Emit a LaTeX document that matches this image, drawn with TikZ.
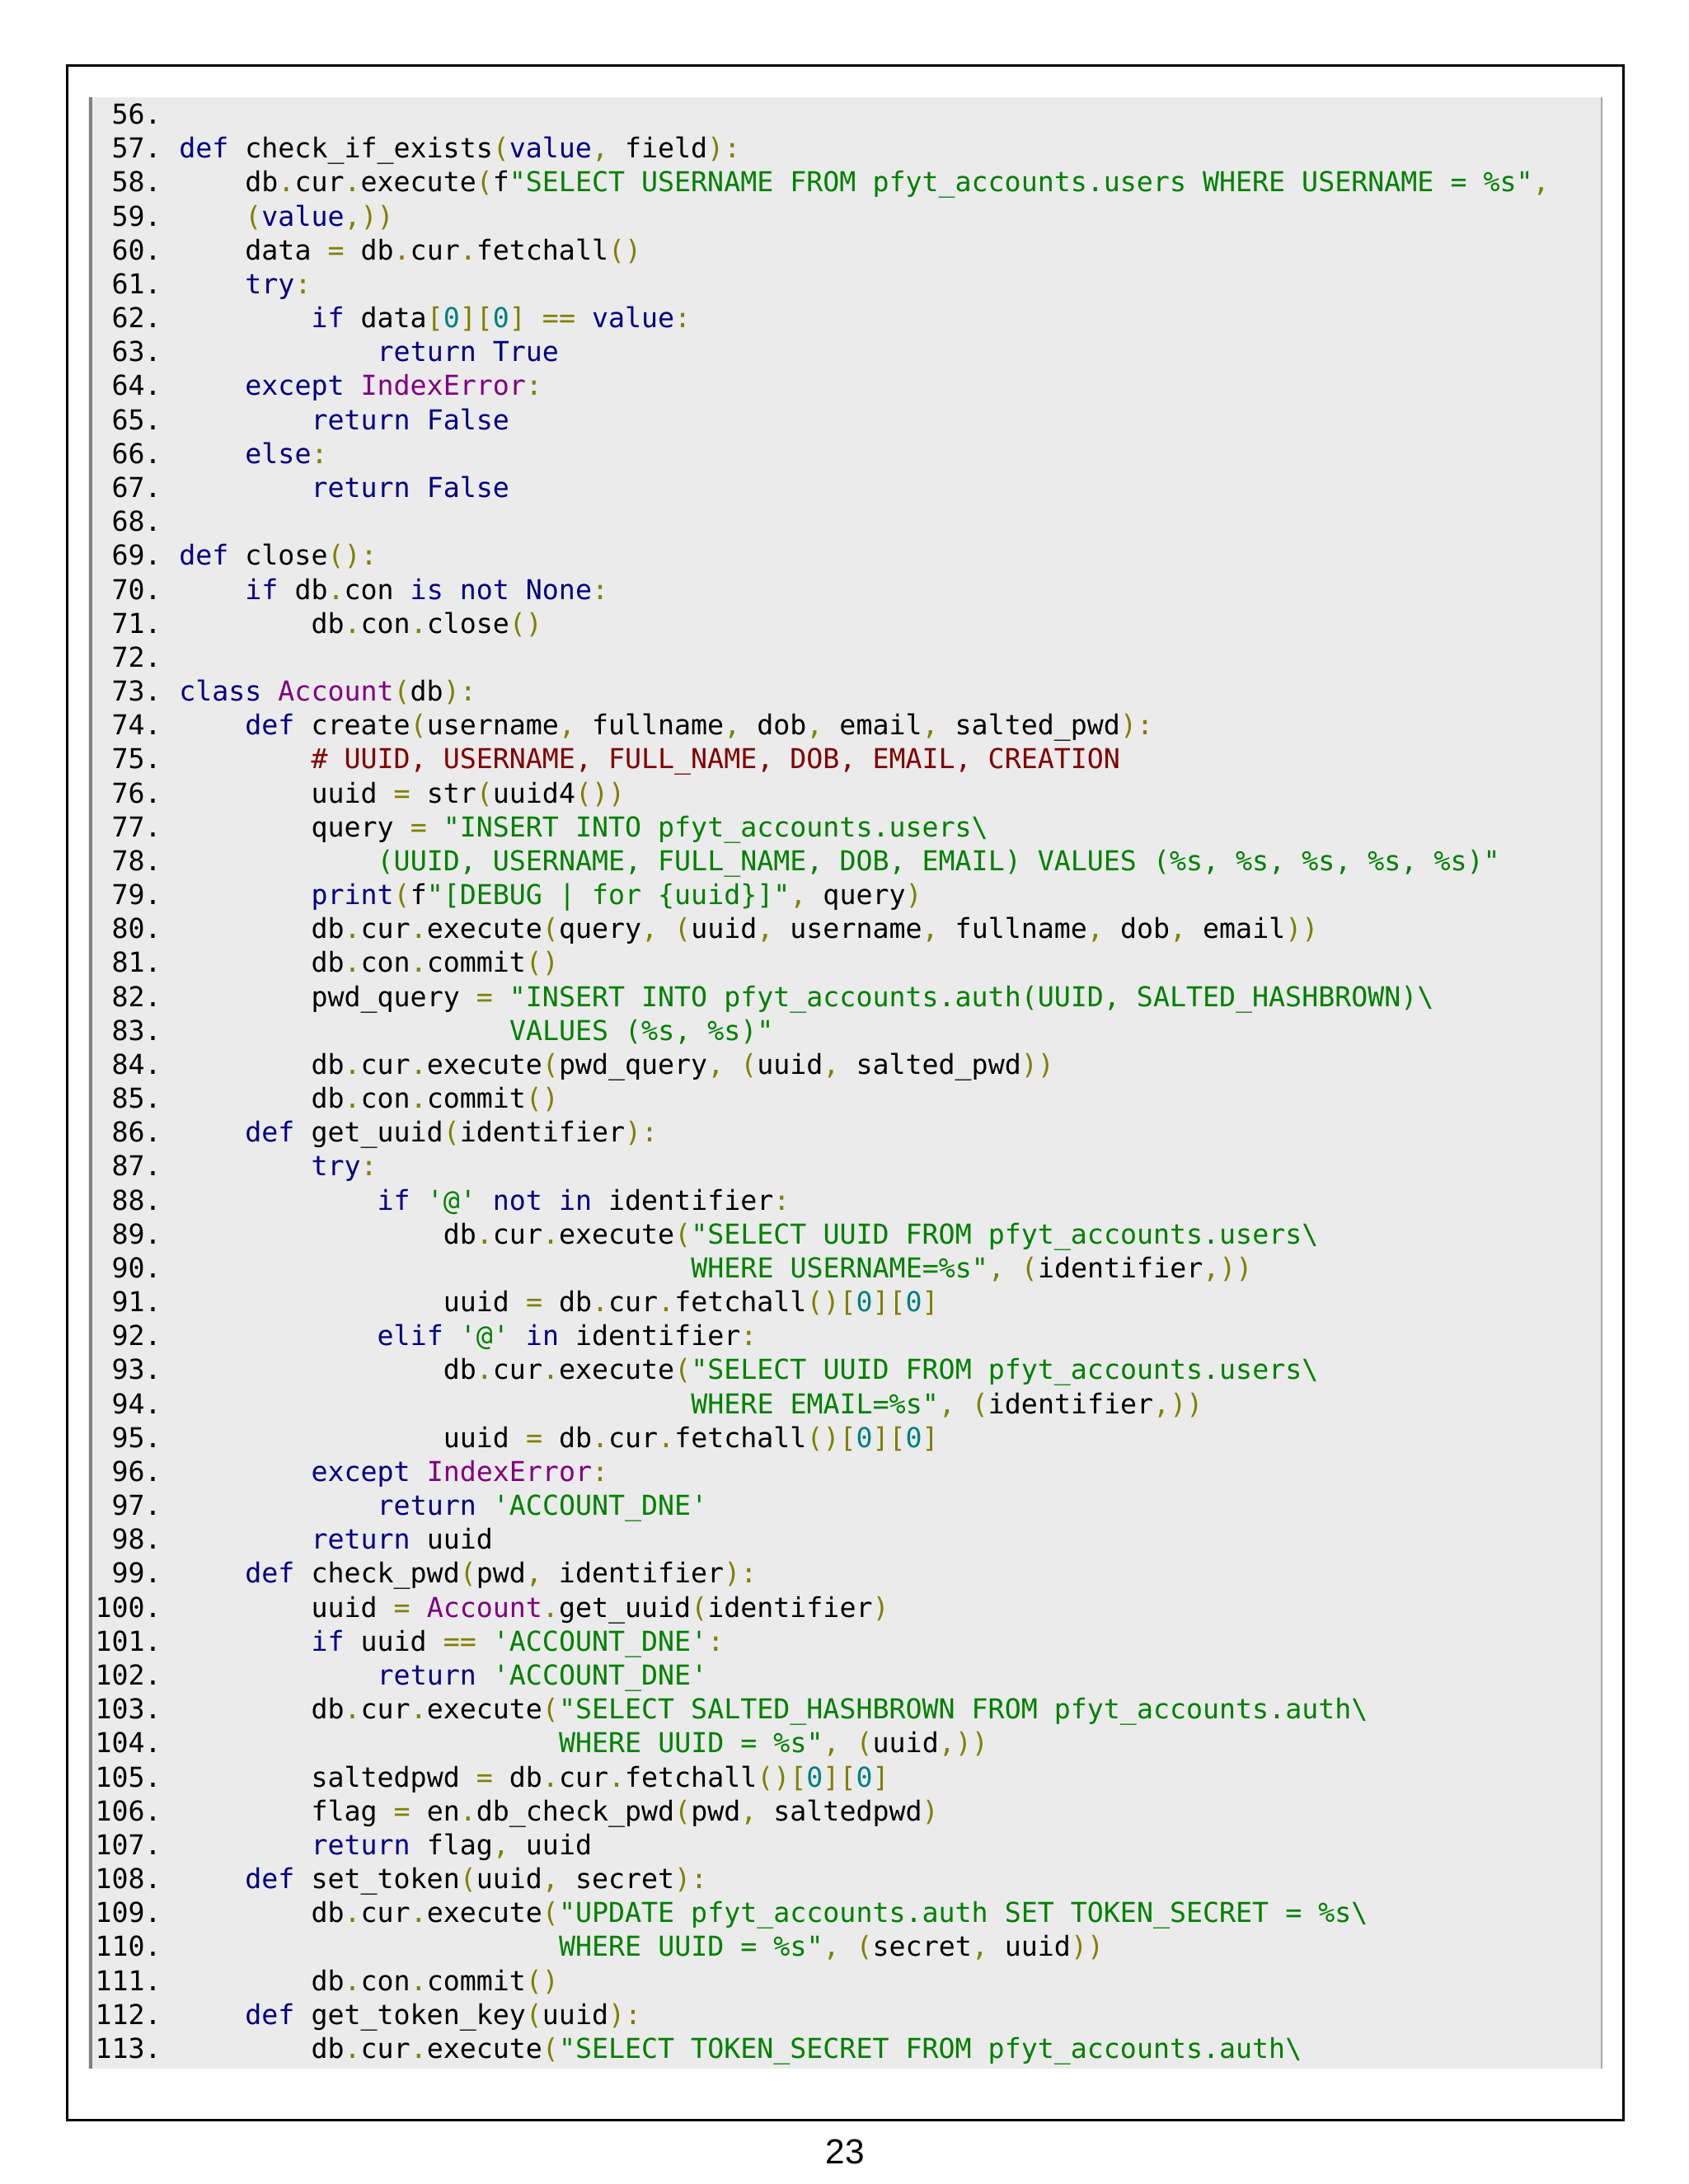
\documentclass[tikz,border=0pt]{standalone}
\usepackage{fontspec}
\setmonofont{DejaVu Sans Mono}
\setsansfont{Liberation Sans}
\usetikzlibrary{positioning}

\definecolor{kwcol}{HTML}{000080}
\definecolor{strcol}{HTML}{008000}
\definecolor{pncol}{HTML}{808000}
\definecolor{clscol}{HTML}{800080}
\definecolor{cmtcol}{HTML}{800000}
\definecolor{numcol}{HTML}{008080}
\definecolor{boxgray}{HTML}{EBEBEB}

\newcommand{\kw}[1]{\textcolor{kwcol}{#1}}
\newcommand{\qs}[1]{\textcolor{strcol}{#1}}
\newcommand{\pn}[1]{\textcolor{pncol}{#1}}
\newcommand{\cls}[1]{\textcolor{clscol}{#1}}
\newcommand{\cmt}[1]{\textcolor{cmtcol}{#1}}
\newcommand{\num}[1]{\textcolor{numcol}{#1}}
\newcommand{\bs}{\textbackslash}
% line number, indent, code
\newcommand{\codeln}[3]{%
  \node[lnum] (n#1) at (116,{89+(#1-56)*24.33}) {#1.};
  \node[code] (l#1) at ({128+#2*11.84},{89+(#1-56)*24.33}) {#3};}

\begin{document}
\begin{tikzpicture}[x=0.5pt, y=-0.5pt,
    code/.style={anchor=base west, inner sep=0pt, font=\ttfamily\fontsize{9.83}{12}\selectfont},
    lnum/.style={anchor=base east, inner sep=0pt, font=\ttfamily\fontsize{9.83}{12}\selectfont}]

    \useasboundingbox (0,0) rectangle (1210.3,1566);
    \draw[line width=0.8pt] (48,47) rectangle (1164,1520);
    \fill[boxgray] (63,70) rectangle (1148,1483);
    \draw[gray, line width=1.2pt] (65,70) -- (65,1483);
    \draw[gray!70, line width=0.5pt] (1148,70) -- (1148,1483);

    \codeln{56}{0}{}
    \codeln{57}{0}{\kw{def} check\_if\_exists\pn{(}\kw{value}\pn{,} field\pn{):}}
    \codeln{58}{4}{db\pn{.}cur\pn{.}execute\pn{(}f\qs{"SELECT USERNAME FROM pfyt\_accounts.users WHERE USERNAME = \%s"}\pn{,}}
    \codeln{59}{4}{\pn{(}\kw{value}\pn{,))}}
    \codeln{60}{4}{data \pn{=} db\pn{.}cur\pn{.}fetchall\pn{()}}
    \codeln{61}{4}{\kw{try}\pn{:}}
    \codeln{62}{8}{\kw{if} data\pn{[}\num{0}\pn{][}\num{0}\pn{]} \pn{==} \kw{value}\pn{:}}
    \codeln{63}{12}{\kw{return True}}
    \codeln{64}{4}{\kw{except} \cls{IndexError}\pn{:}}
    \codeln{65}{8}{\kw{return False}}
    \codeln{66}{4}{\kw{else}\pn{:}}
    \codeln{67}{8}{\kw{return False}}
    \codeln{68}{0}{}
    \codeln{69}{0}{\kw{def} close\pn{():}}
    \codeln{70}{4}{\kw{if} db\pn{.}con \kw{is not None}\pn{:}}
    \codeln{71}{8}{db\pn{.}con\pn{.}close\pn{()}}
    \codeln{72}{0}{}
    \codeln{73}{0}{\kw{class} \cls{Account}\pn{(}db\pn{):}}
    \codeln{74}{4}{\kw{def} create\pn{(}username\pn{,} fullname\pn{,} dob\pn{,} email\pn{,} salted\_pwd\pn{):}}
    \codeln{75}{8}{\cmt{\# UUID, USERNAME, FULL\_NAME, DOB, EMAIL, CREATION}}
    \codeln{76}{8}{uuid \pn{=} str\pn{(}uuid4\pn{())}}
    \codeln{77}{8}{query \pn{=} \qs{"INSERT INTO pfyt\_accounts.users\bs}}
    \codeln{78}{12}{\qs{(UUID, USERNAME, FULL\_NAME, DOB, EMAIL) VALUES (\%s, \%s, \%s, \%s, \%s)"}}
    \codeln{79}{8}{\kw{print}\pn{(}f\qs{"[DEBUG | for \{uuid\}]"}\pn{,} query\pn{)}}
    \codeln{80}{8}{db\pn{.}cur\pn{.}execute\pn{(}query\pn{, (}uuid\pn{,} username\pn{,} fullname\pn{,} dob\pn{,} email\pn{))}}
    \codeln{81}{8}{db\pn{.}con\pn{.}commit\pn{()}}
    \codeln{82}{8}{pwd\_query \pn{=} \qs{"INSERT INTO pfyt\_accounts.auth(UUID, SALTED\_HASHBROWN)\bs}}
    \codeln{83}{20}{\qs{VALUES (\%s, \%s)"}}
    \codeln{84}{8}{db\pn{.}cur\pn{.}execute\pn{(}pwd\_query\pn{, (}uuid\pn{,} salted\_pwd\pn{))}}
    \codeln{85}{8}{db\pn{.}con\pn{.}commit\pn{()}}
    \codeln{86}{4}{\kw{def} get\_uuid\pn{(}identifier\pn{):}}
    \codeln{87}{8}{\kw{try}\pn{:}}
    \codeln{88}{12}{\kw{if} \qs{'@'} \kw{not in} identifier\pn{:}}
    \codeln{89}{16}{db\pn{.}cur\pn{.}execute\pn{(}\qs{"SELECT UUID FROM pfyt\_accounts.users\bs}}
    \codeln{90}{31}{\qs{WHERE USERNAME=\%s"}\pn{, (}identifier\pn{,))}}
    \codeln{91}{16}{uuid \pn{=} db\pn{.}cur\pn{.}fetchall\pn{()[}\num{0}\pn{][}\num{0}\pn{]}}
    \codeln{92}{12}{\kw{elif} \qs{'@'} \kw{in} identifier\pn{:}}
    \codeln{93}{16}{db\pn{.}cur\pn{.}execute\pn{(}\qs{"SELECT UUID FROM pfyt\_accounts.users\bs}}
    \codeln{94}{31}{\qs{WHERE EMAIL=\%s"}\pn{, (}identifier\pn{,))}}
    \codeln{95}{16}{uuid \pn{=} db\pn{.}cur\pn{.}fetchall\pn{()[}\num{0}\pn{][}\num{0}\pn{]}}
    \codeln{96}{8}{\kw{except} \cls{IndexError}\pn{:}}
    \codeln{97}{12}{\kw{return} \qs{'ACCOUNT\_DNE'}}
    \codeln{98}{8}{\kw{return} uuid}
    \codeln{99}{4}{\kw{def} check\_pwd\pn{(}pwd\pn{,} identifier\pn{):}}
    \codeln{100}{8}{uuid \pn{=} \cls{Account}\pn{.}get\_uuid\pn{(}identifier\pn{)}}
    \codeln{101}{8}{\kw{if} uuid \pn{==} \qs{'ACCOUNT\_DNE'}\pn{:}}
    \codeln{102}{12}{\kw{return} \qs{'ACCOUNT\_DNE'}}
    \codeln{103}{8}{db\pn{.}cur\pn{.}execute\pn{(}\qs{"SELECT SALTED\_HASHBROWN FROM pfyt\_accounts.auth\bs}}
    \codeln{104}{23}{\qs{WHERE UUID = \%s"}\pn{, (}uuid\pn{,))}}
    \codeln{105}{8}{saltedpwd \pn{=} db\pn{.}cur\pn{.}fetchall\pn{()[}\num{0}\pn{][}\num{0}\pn{]}}
    \codeln{106}{8}{flag \pn{=} en\pn{.}db\_check\_pwd\pn{(}pwd\pn{,} saltedpwd\pn{)}}
    \codeln{107}{8}{\kw{return} flag\pn{,} uuid}
    \codeln{108}{4}{\kw{def} set\_token\pn{(}uuid\pn{,} secret\pn{):}}
    \codeln{109}{8}{db\pn{.}cur\pn{.}execute\pn{(}\qs{"UPDATE pfyt\_accounts.auth SET TOKEN\_SECRET = \%s\bs}}
    \codeln{110}{23}{\qs{WHERE UUID = \%s"}\pn{, (}secret\pn{,} uuid\pn{))}}
    \codeln{111}{8}{db\pn{.}con\pn{.}commit\pn{()}}
    \codeln{112}{4}{\kw{def} get\_token\_key\pn{(}uuid\pn{):}}
    \codeln{113}{8}{db\pn{.}cur\pn{.}execute\pn{(}\qs{"SELECT TOKEN\_SECRET FROM pfyt\_accounts.auth\bs}}

    \node[font=\sffamily\fontsize{12.5}{14}\selectfont, inner sep=0pt] (page) at (606,1543) {23};

\end{tikzpicture}
\end{document}
